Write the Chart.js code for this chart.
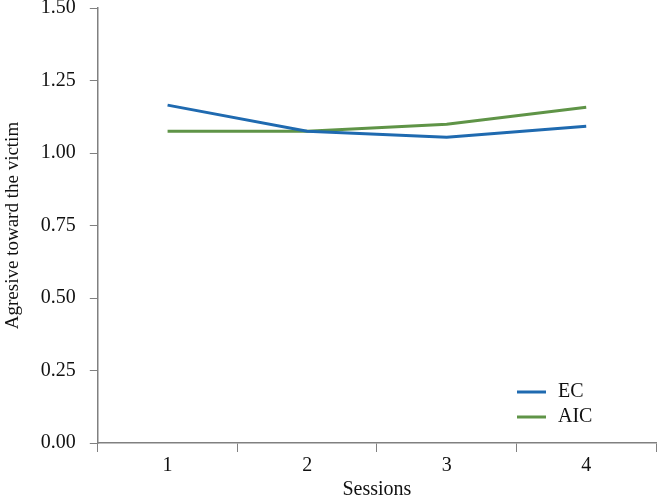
<!DOCTYPE html>
<html>
<head>
<meta charset="utf-8">
<script src="https://cdn.jsdelivr.net/npm/chart.js@4/dist/chart.umd.min.js"></script>
<style>
  html, body { margin: 0; padding: 0; background: #fff; }
  #wrap { width: 666px; height: 500px; }
</style>
</head>
<body>
<div id="wrap"><canvas id="sessionsChart" width="666" height="500"></canvas></div>
<script>
// data
const sessions = ['1', '2', '3', '4'];
const ecValues = [1.165, 1.075, 1.054, 1.092];
const aicValues = [1.075, 1.075, 1.099, 1.158];
const yTicks = [0, 0.25, 0.5, 0.75, 1, 1.25, 1.5];

const fontFamily = '"Liberation Serif", serif';
const axisGrey = '#808080';

// legend drawn inside the plot, lower right
const insideLegend = {
    id: 'insideLegend',
    afterDraw(chart) {
        const ctx = chart.ctx;
        ctx.save();
        ctx.font = '20px ' + fontFamily;
        ctx.textBaseline = 'middle';
        chart.data.datasets.forEach((ds, i) => {
            const y = 392 + i * 25;
            ctx.strokeStyle = ds.borderColor;
            ctx.lineWidth = 3;
            ctx.beginPath();
            ctx.moveTo(517, y);
            ctx.lineTo(546, y);
            ctx.stroke();
            ctx.fillStyle = '#111';
            ctx.fillText(ds.label, 558, y);
        });
        ctx.restore();
    }
};

const ctx = document.getElementById('sessionsChart').getContext('2d');
const sessionsChart = new Chart(ctx, {
    type: 'line',
    data: {
        labels: sessions,
        datasets: [{
            label: 'EC',
            data: ecValues,
            borderColor: '#1f6ab0',
            borderWidth: 3,
            pointRadius: 0,
            tension: 0,
            fill: false
        }, {
            label: 'AIC',
            data: aicValues,
            borderColor: '#5f9447',
            borderWidth: 3,
            pointRadius: 0,
            tension: 0,
            fill: false
        }]
    },
    options: {
        responsive: false,
        animation: false,
        layout: { padding: { top: 8, right: 10, left: 2, bottom: 0 } },
        plugins: {
            legend: { display: false },
            tooltip: { enabled: false }
        },
        scales: {
            x: {
                offset: true,
                grid: {
                    offset: true,
                    drawOnChartArea: false,
                    color: axisGrey,
                    tickLength: 9,
                    tickColor: axisGrey
                },
                border: { color: axisGrey, width: 1.5 },
                ticks: {
                    color: '#111',
                    font: { family: fontFamily, size: 20 },
                    padding: 2
                },
                title: {
                    display: true,
                    text: 'Sessions',
                    color: '#111',
                    font: { family: fontFamily, size: 20, lineHeight: 1 },
                    padding: { top: 0, bottom: 0 }
                }
            },
            y: {
                min: 0,
                max: 1.5,
                afterBuildTicks(axis) {
                    axis.ticks = yTicks.map(v => ({ value: v }));
                },
                afterFit(axis) {
                    axis.paddingTop = 0;
                    axis.paddingBottom = 0;
                },
                grid: {
                    drawOnChartArea: false,
                    color: axisGrey,
                    tickLength: 8,
                    tickColor: axisGrey
                },
                border: { color: axisGrey, width: 1.5 },
                ticks: {
                    color: '#111',
                    font: { family: fontFamily, size: 20 },
                    padding: 14,
                    callback: v => Number(v).toFixed(2)
                },
                title: {
                    display: true,
                    text: 'Agresive toward the victim',
                    color: '#111',
                    font: { family: fontFamily, size: 19 },
                    padding: { top: 0, bottom: 2 }
                }
            }
        }
    },
    plugins: [insideLegend]
});
</script>
</body>
</html>
